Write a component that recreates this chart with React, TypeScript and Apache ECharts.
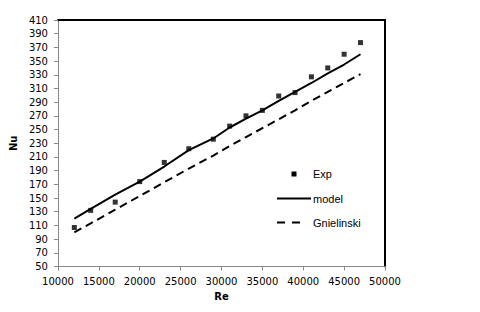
import React, { useEffect, useRef } from "react";
import * as echarts from "echarts";

const reValues = [12000, 14000, 17000, 20000, 23000, 26000, 29000, 31000, 33000, 35000, 37000, 39000, 41000, 43000, 45000, 47000];
const expNu = [107, 132, 144, 174, 202, 222, 236, 255, 270, 278, 299, 304, 327, 340, 360, 377];
const modelNu = [120, 134, 155, 174, 196, 220, 237, 253, 266, 278, 292, 305, 318, 332, 345, 360];
const gnielinskiNu = [100, 113, 133, 153, 173, 193, 212, 226, 239, 252, 265, 278, 292, 305, 318, 331];
const legendNames = ["Exp", "model", "Gnielinski"];

const pair = (ys: number[]) => reValues.map((x, i) => [x, ys[i]]);

export default function App() {
  const ref = useRef<HTMLDivElement>(null);
  useEffect(() => {
    if (!ref.current) return;
    const chart = echarts.init(ref.current, null, { renderer: "svg" });
    const labelFont = { fontFamily: "DejaVu Sans", fontSize: 10, color: "#000" };
    const legFont = { fontFamily: "Liberation Sans", fontSize: 11, fill: "#000" };
    chart.setOption({
      animation: false,
      backgroundColor: "#fff",
      grid: { left: 56.7, top: 20, right: 95, bottom: 45.5 },
      xAxis: [
        {
          type: "value",
          min: 10000,
          max: 50000,
          interval: 5000,
          name: "Re",
          nameLocation: "middle",
          nameGap: 25,
          nameTextStyle: { fontFamily: "DejaVu Sans", fontSize: 10, fontWeight: "bold", color: "#000" },
          axisLine: { show: true, lineStyle: { color: "#888", width: 1 } },
          axisTick: { show: true, length: 4, lineStyle: { color: "#888" } },
          axisLabel: { ...labelFont, margin: 10, formatter: (v: number) => String(v) },
          splitLine: { show: false },
        },
        {
          type: "value",
          position: "top",
          min: 10000,
          max: 50000,
          axisLine: { show: true, onZero: false, lineStyle: { color: "#000", width: 2 } },
          axisTick: { show: false },
          axisLabel: { show: false },
          splitLine: { show: false },
        },
      ],
      yAxis: [
        {
          type: "value",
          min: 50,
          max: 410,
          interval: 20,
          name: "Nu",
          nameLocation: "middle",
          nameGap: 37,
          nameTextStyle: { fontFamily: "DejaVu Sans", fontSize: 10, fontWeight: "bold", color: "#000" },
          axisLine: { show: true, lineStyle: { color: "#888", width: 1 } },
          axisTick: { show: true, length: 4, lineStyle: { color: "#888" } },
          axisLabel: { ...labelFont, margin: 10 },
          splitLine: { show: false },
        },
        {
          type: "value",
          position: "right",
          min: 50,
          max: 410,
          axisLine: { show: true, onZero: false, lineStyle: { color: "#000", width: 2 } },
          axisTick: { show: false },
          axisLabel: { show: false },
          splitLine: { show: false },
        },
      ],
      series: [
        {
          name: legendNames[1],
          type: "line",
          data: pair(modelNu),
          symbol: "none",
          lineStyle: { color: "#000", width: 2 },
          z: 2,
        },
        {
          name: legendNames[2],
          type: "line",
          data: pair(gnielinskiNu),
          symbol: "none",
          lineStyle: { color: "#000", width: 2, type: [8, 5] },
          z: 2,
        },
        {
          name: legendNames[0],
          type: "scatter",
          data: pair(expNu),
          symbol: "rect",
          symbolSize: 5,
          itemStyle: { color: "#000" },
          z: 3,
        },
      ],
      graphic: [
        { type: "rect", shape: { x: 291.5, y: 171.5, width: 5, height: 5 }, style: { fill: "#000" } },
        { type: "text", x: 313, y: 174, style: { text: legendNames[0], ...legFont, textVerticalAlign: "middle" } },
        { type: "line", shape: { x1: 277, y1: 198.5, x2: 311, y2: 198.5 }, style: { stroke: "#000", lineWidth: 2 } },
        { type: "text", x: 313, y: 198.5, style: { text: legendNames[1], ...legFont, textVerticalAlign: "middle" } },
        { type: "line", shape: { x1: 277, y1: 222.5, x2: 301, y2: 222.5 }, style: { stroke: "#000", lineWidth: 2, lineDash: [8, 7] } },
        { type: "text", x: 313, y: 222.5, style: { text: legendNames[2], ...legFont, textVerticalAlign: "middle" } },
      ],
    });
    return () => chart.dispose();
  }, []);
  return <div ref={ref} style={{ width: 480, height: 312, position: "absolute", left: 0, top: 0 }} />;
}
